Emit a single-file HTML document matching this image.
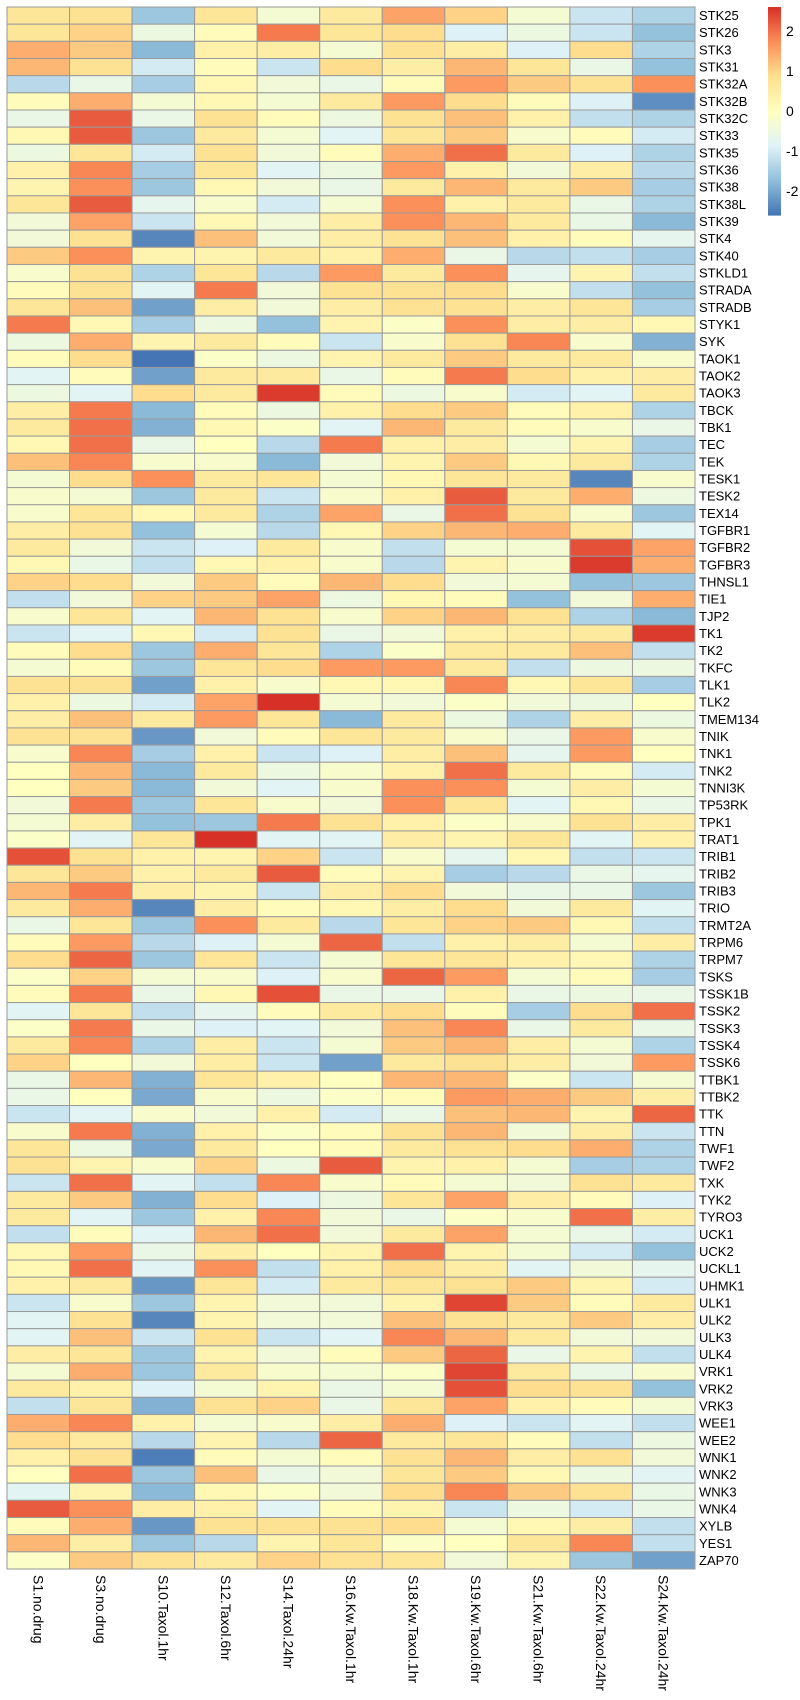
<!DOCTYPE html>
<html><head><meta charset="utf-8"><style>
html,body{margin:0;padding:0;background:#fff;}
svg{display:block;font-family:"Liberation Sans",Arial,sans-serif;}
</style></head><body>
<svg id="chart" width="800" height="1700" viewBox="0 0 800 1700" xmlns="http://www.w3.org/2000/svg">
<g id="cells"></g>
<g id="rowlabels"></g>
<g id="collabels"></g>
<g id="legend"></g>
</svg>
<script>
const columns = ["S1.no.drug","S3.no.drug","S10.Taxol.1hr","S12.Taxol.6hr","S14.Taxol.24hr","S16.Kw.Taxol.1hr","S18.Kw.Taxol.1hr","S19.Kw.Taxol.6hr","S21.Kw.Taxol.6hr","S22.Kw.Taxol.24hr","S24.Kw.Taxol.24hr"];
const rows = ["STK25","STK26","STK3","STK31","STK32A","STK32B","STK32C","STK33","STK35","STK36","STK38","STK38L","STK39","STK4","STK40","STKLD1","STRADA","STRADB","STYK1","SYK","TAOK1","TAOK2","TAOK3","TBCK","TBK1","TEC","TEK","TESK1","TESK2","TEX14","TGFBR1","TGFBR2","TGFBR3","THNSL1","TIE1","TJP2","TK1","TK2","TKFC","TLK1","TLK2","TMEM134","TNIK","TNK1","TNK2","TNNI3K","TP53RK","TPK1","TRAT1","TRIB1","TRIB2","TRIB3","TRIO","TRMT2A","TRPM6","TRPM7","TSKS","TSSK1B","TSSK2","TSSK3","TSSK4","TSSK6","TTBK1","TTBK2","TTK","TTN","TWF1","TWF2","TXK","TYK2","TYRO3","UCK1","UCK2","UCKL1","UHMK1","ULK1","ULK2","ULK3","ULK4","VRK1","VRK2","VRK3","WEE1","WEE2","WNK1","WNK2","WNK3","WNK4","XYLB","YES1","ZAP70"];
const values = [
[0.7,0.8,-1.6,0.7,-0.3,0.6,1.5,1.0,-0.3,-1.1,-1.4],
[0.7,1.0,-0.5,0.1,1.9,0.7,0.9,-0.9,-0.5,-1.1,-1.7],
[1.4,1.1,-1.8,0.4,0.5,-0.3,0.8,0.5,-0.9,0.9,-1.4],
[1.3,0.8,-1.0,0.1,-1.1,0.9,0.5,1.3,0.7,-0.6,-1.7],
[-1.3,-0.6,-1.5,0.2,-0.4,-0.6,0.1,1.6,1.1,0.8,1.7],
[0.1,1.4,-0.3,0.2,-0.3,0.6,1.6,0.9,0.1,-0.9,-2.3],
[-0.6,2.2,-0.6,0.8,0.1,-0.5,0.8,1.2,0.4,-1.2,-1.4],
[0.2,2.2,-1.6,0.6,-0.3,-0.8,0.7,1.1,-0.2,0.1,-1.0],
[-0.5,0.7,-1.0,0.8,-0.4,0.1,1.4,2.0,0.6,-0.9,-1.4],
[0.4,1.8,-1.5,0.7,-0.8,-0.5,1.6,0.4,-0.4,0.5,-1.3],
[0.3,1.7,-1.6,0.2,-0.4,-0.6,0.6,1.3,0.6,1.1,-1.5],
[0.7,2.2,-0.7,-0.2,-1.0,-0.3,1.7,0.4,0.6,-0.6,-1.4],
[-0.4,1.5,-1.1,0.2,-0.4,0.5,1.7,1.3,0.6,-0.6,-1.8],
[-0.4,0.8,-2.4,1.2,-0.4,0.5,0.8,1.2,0.4,0.1,-0.7],
[1.1,1.7,0.3,0.3,0.6,0.4,1.4,-0.6,-1.3,-1.2,-1.5],
[-0.2,0.8,-1.4,0.7,-1.3,1.6,0.6,1.7,-0.7,0.3,-1.2],
[0.1,0.8,-0.8,1.9,-0.4,0.8,0.8,0.9,-0.2,-1.2,-1.7],
[0.7,1.2,-2.1,0.5,-0.4,0.5,0.8,0.8,0.5,0.7,-1.5],
[1.9,0.2,-1.5,-0.5,-1.7,0.3,-0.1,1.7,0.5,0.5,0.2],
[-0.5,1.4,0.3,0.6,0.1,-1.1,-0.2,0.8,1.8,-0.2,-1.9],
[0.1,0.9,-2.6,-0.1,-0.5,0.3,0.6,1.1,0.6,0.6,-0.2],
[-0.8,0.1,-2.1,0.6,0.6,-0.6,0.1,1.9,0.9,0.4,0.5],
[-0.5,-0.8,0.9,0.6,2.5,0.1,-0.5,-0.2,-1.0,-0.8,0.6],
[0.5,1.9,-1.8,0.1,-0.5,0.4,0.9,1.1,0.1,0.4,-1.4],
[0.6,2.0,-1.9,0.2,-0.1,-0.8,1.3,0.6,0.1,-0.2,-0.6],
[0.2,2.0,-0.6,0.0,-1.3,1.9,0.4,0.5,-0.3,0.3,-1.5],
[1.2,1.8,-0.2,-0.2,-1.8,-0.4,0.3,1.1,0.2,0.6,-1.4],
[-0.3,0.9,1.7,0.6,0.7,-0.3,0.2,0.7,0.6,-2.4,-0.2],
[-0.2,-0.3,-1.6,0.6,-1.1,-0.2,0.4,2.2,0.6,1.4,-0.5],
[-0.2,0.7,0.2,0.6,-1.4,1.5,-0.6,2.0,0.8,-0.2,-1.6],
[0.5,0.8,-1.7,-0.3,-1.3,0.2,1.0,1.3,1.4,0.6,-0.8],
[0.6,-0.4,-1.1,-0.9,0.6,-0.2,-1.2,-0.3,-0.3,2.3,1.5],
[0.2,-0.6,-1.2,0.2,0.4,-0.2,-1.3,0.3,-0.2,2.5,1.4],
[1.0,0.9,-0.4,1.1,0.1,1.3,0.9,-0.4,-0.3,-1.7,-1.6],
[-1.2,-0.4,1.0,1.1,1.5,-0.5,0.2,0.1,-1.7,-0.4,1.4],
[-0.2,0.7,-0.8,1.3,0.8,-0.2,1.0,1.3,0.8,-1.4,-1.8],
[-1.1,-0.8,0.2,-1.0,0.8,-0.6,-0.4,0.4,0.5,0.6,2.5],
[0.1,0.9,-1.6,1.4,0.7,-1.4,-0.1,0.6,0.6,1.2,-1.2],
[-0.3,0.1,-1.6,0.7,0.9,1.6,1.6,0.6,-1.2,-0.5,-0.5],
[0.8,0.8,-2.1,0.4,-0.2,0.2,0.2,1.8,0.2,0.7,-1.5],
[0.4,-0.5,-1.0,1.5,2.6,-0.3,-0.4,-0.1,-0.4,-0.5,0.0],
[0.5,1.2,0.6,1.6,0.7,-1.8,0.6,-0.5,-1.4,0.5,-0.5],
[0.8,0.8,-2.2,-0.4,0.1,0.7,0.6,-0.2,-0.6,1.6,-0.2],
[-0.2,1.8,-1.5,0.4,-1.1,-0.9,0.5,1.2,-0.7,1.6,0.0],
[0.0,1.3,-1.8,0.6,-0.5,-0.2,0.4,2.0,0.6,0.1,-1.0],
[0.0,1.1,-1.8,-0.4,-0.8,-0.2,1.7,1.7,-0.3,0.5,-0.3],
[-0.4,1.9,-1.6,0.7,-0.2,-0.4,1.7,0.7,-0.8,0.2,-0.6],
[-0.3,0.5,-1.7,-1.6,1.9,0.8,0.4,-0.1,-0.2,0.8,0.5],
[-0.1,-0.8,0.7,2.7,-0.8,-0.8,0.5,0.3,0.7,-0.8,0.4],
[2.3,0.8,0.4,0.3,1.0,-1.1,-0.2,-0.7,0.2,-1.2,-1.1],
[0.7,1.1,0.4,0.6,2.2,0.1,0.3,-1.5,-1.3,-0.6,-0.7],
[1.3,1.9,0.5,0.3,-1.1,0.5,0.9,-0.4,-0.6,-0.6,-1.6],
[0.6,1.4,-2.4,0.5,0.1,0.2,0.5,0.9,-0.4,0.6,-0.8],
[-0.6,0.7,-1.6,1.7,0.6,-1.3,0.7,1.0,1.1,0.2,-1.2],
[0.1,1.6,-1.3,-0.9,-0.3,2.1,-1.2,0.4,0.5,-0.3,0.5],
[0.9,2.1,-1.6,0.7,-1.1,-0.3,0.7,0.7,0.4,0.2,-1.4],
[-0.1,1.0,-0.3,-0.2,-0.9,-0.2,2.1,1.6,-0.3,0.1,-1.5],
[0.1,1.9,-0.6,0.2,2.3,-0.6,-0.6,0.4,-0.6,-0.5,-0.6],
[-0.8,0.7,-1.2,-0.7,0.1,0.6,0.9,0.1,-1.5,0.9,2.0],
[-0.1,1.9,-0.6,-0.9,-0.8,-0.4,1.2,1.8,-0.6,0.6,-0.6],
[0.6,1.8,-1.4,0.5,-1.1,-0.3,1.1,1.3,0.5,-0.3,-1.4],
[1.0,0.0,-0.4,0.5,-1.1,-2.1,0.6,0.8,0.5,-0.4,1.6],
[-0.6,1.3,-1.9,0.7,0.4,0.0,1.3,1.3,-0.1,-1.1,-0.3],
[-0.6,0.0,-2.0,-0.2,-0.5,-0.1,0.1,1.6,1.4,1.1,0.5],
[-1.1,-0.8,-0.2,-0.4,0.4,-1.0,-0.6,1.2,1.3,0.3,2.1],
[-0.2,1.9,-1.9,0.4,-0.1,0.1,0.8,1.3,-0.4,0.5,-1.1],
[0.7,-0.5,-2.0,0.6,0.0,0.1,0.6,0.8,0.9,1.4,-1.4],
[0.8,0.3,-0.2,1.0,-0.5,2.2,0.3,0.4,-0.3,-1.5,-1.4],
[-1.1,2.0,-0.8,-1.2,1.8,-0.2,0.1,-0.3,-0.4,0.8,0.6],
[0.6,1.1,-1.9,0.9,-0.9,-0.5,0.7,1.5,0.5,0.1,-0.9],
[0.6,-0.8,-1.6,0.4,1.8,-0.4,-0.6,-0.1,-0.2,2.0,0.5],
[-1.2,0.1,-0.8,1.3,2.0,-0.4,0.6,1.5,-0.3,-0.6,-1.0],
[0.2,1.6,-0.6,0.5,0.0,0.3,2.0,0.3,-0.3,-1.0,-1.7],
[0.2,2.0,-0.8,1.7,-1.2,0.4,0.9,0.5,-0.8,-0.4,-0.7],
[0.4,0.6,-2.2,0.7,-1.0,0.6,0.7,0.8,1.1,0.3,-1.0],
[-1.1,-0.2,-1.6,0.3,-0.4,-0.4,0.3,2.4,1.1,0.1,0.6],
[-0.8,0.8,-2.4,0.3,-0.4,-0.4,1.2,0.8,0.6,1.1,0.5],
[-0.8,1.2,-1.1,0.8,-1.1,-0.8,1.8,1.3,0.6,-0.4,-0.4],
[0.5,0.7,-1.6,0.3,-0.4,0.1,1.1,2.1,-0.6,0.3,-1.2],
[-0.3,1.4,-1.6,0.6,-0.2,-0.3,-0.1,2.4,0.6,-0.6,-0.2],
[0.6,0.4,-0.9,-0.3,0.3,-0.6,-0.3,2.3,0.9,0.8,-1.7],
[-1.2,0.7,-1.9,0.8,1.0,-0.6,0.7,1.5,0.4,0.1,-0.3],
[1.4,1.8,0.4,-0.3,-0.2,0.5,1.4,-0.9,-1.1,-0.8,-1.2],
[0.9,0.6,-1.3,0.3,-1.3,2.1,0.6,0.7,0.1,-1.2,-0.5],
[0.4,0.8,-2.5,0.1,-0.3,0.1,0.8,1.3,0.5,0.8,-0.4],
[0.0,2.0,-1.6,1.2,-0.6,-0.4,0.7,1.1,0.2,-0.5,-0.8],
[-0.8,0.3,-1.8,0.2,-0.1,-0.4,0.9,1.8,1.1,0.8,-0.6],
[2.2,1.7,0.5,0.4,-0.8,0.1,0.3,-1.1,-0.5,-1.0,-0.6],
[0.1,1.4,-2.2,0.8,0.8,0.8,0.9,-0.3,0.2,0.5,-1.2],
[1.3,0.5,-1.6,-1.3,0.3,0.7,-0.1,0.0,0.7,1.8,-1.2],
[-0.1,1.1,0.8,0.6,1.0,0.8,0.7,-0.4,0.3,-1.6,-2.1]
];
const legendTicks = [2,1,0,-1,-2];

const NS = "http://www.w3.org/2000/svg";
const X0 = 7, X1 = 695, Y0 = 7, Y1 = 1569;
const cw = (X1 - X0) / columns.length, rh = (Y1 - Y0) / rows.length;
const VMIN = -2.6, VMAX = 2.6;
const stops = ["#4575B4","#91BFDB","#E0F3F8","#FFFFBF","#FEE090","#FC8D59","#D73027"].map(h=>[parseInt(h.slice(1,3),16),parseInt(h.slice(3,5),16),parseInt(h.slice(5,7),16)]);
function color(v){
  let t = (v - VMIN) / (VMAX - VMIN); t = Math.max(0, Math.min(1, t));
  const p = t * (stops.length - 1), i = Math.min(stops.length - 2, Math.floor(p)), f = p - i;
  const c = stops[i].map((a,k)=>Math.round(a + (stops[i+1][k]-a)*f));
  return "rgb(" + c.join(",") + ")";
}
function xPos(j){ return X0 + j * cw; }
function yPos(i){ return Y0 + i * rh; }
function mk(tag, attrs){ const e = document.createElementNS(NS, tag); for (const k in attrs) e.setAttribute(k, attrs[k]); return e; }

const cells = document.getElementById("cells");
values.forEach((row, i) => row.forEach((v, j) => {
  const r = mk("rect", {x:xPos(j), y:yPos(i), width:cw, height:rh, fill:color(v), stroke:"#9a9a9a", "stroke-width":1});
  
  
  cells.appendChild(r);
}));

const rl = document.getElementById("rowlabels");
rows.forEach((name, i) => {
  const t = mk("text", {x:X1 + 4, y:yPos(i) + rh/2 + 4.5, "font-size":13, fill:"#000"});
  t.textContent = name;
  
  
  rl.appendChild(t);
});

const cl = document.getElementById("collabels");
columns.forEach((name, j) => {
  const cx = xPos(j) + cw/2 - 5, cy = Y1 + 6;
  const t = mk("text", {x:cx, y:cy, "font-size":14, fill:"#000", transform:"rotate(90 " + cx + " " + cy + ")"});
  t.textContent = name;
  
  
  cl.appendChild(t);
});

const lg = document.getElementById("legend");
const LX = 768, LW = 13, LY0 = 7, LY1 = 215;
function legY(v){ return LY0 + (VMAX - v) / (VMAX - VMIN) * (LY1 - LY0); }
const N = 100;
for (let k = 0; k < N; k++) {
  const v = VMAX - (k + 0.5) * (VMAX - VMIN) / N;
  const r = mk("rect", {x:LX, y:LY0 + k*(LY1-LY0)/N, width:LW, height:(LY1-LY0)/N + 0.6, fill:color(v)});
  
  
  lg.appendChild(r);
}
legendTicks.forEach(v => {
  const t = mk("text", {x:LX + LW + 5, y:legY(v) + 5, "font-size":14, fill:"#000"});
  t.textContent = String(v);
  
  
  lg.appendChild(t);
});
</script>
</body></html>
